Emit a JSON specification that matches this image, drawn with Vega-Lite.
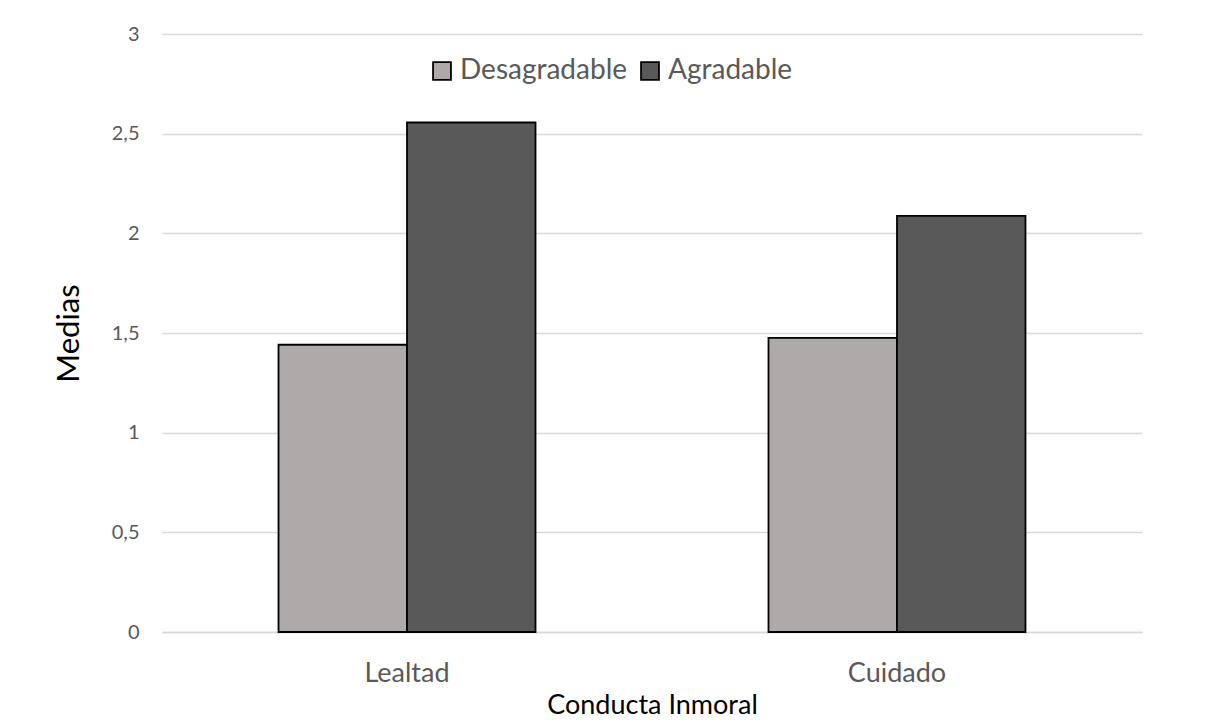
{
  "$schema": "https://vega.github.io/schema/vega-lite/v6.json",
  "autosize": "none",
  "width": 980,
  "height": 598,
  "padding": {"left": 162, "top": 34, "right": 63, "bottom": 88},
  "background": "white",
  "config": {
    "view": {"stroke": null},
    "font": "Lato"
  },
  "data": {
    "values": [
      {"conducta": "Lealtad", "grupo": "Desagradable", "media": 1.441},
      {"conducta": "Lealtad", "grupo": "Agradable", "media": 2.556},
      {"conducta": "Cuidado", "grupo": "Desagradable", "media": 1.476},
      {"conducta": "Cuidado", "grupo": "Agradable", "media": 2.088}
    ]
  },
  "mark": {"type": "bar", "stroke": "black", "strokeWidth": 1.8},
  "encoding": {
    "x": {
      "field": "conducta",
      "type": "nominal",
      "sort": ["Lealtad", "Cuidado"],
      "scale": {"paddingInner": 0.4755, "paddingOuter": 0.2378},
      "axis": {
        "title": "Conducta Inmoral",
        "titleFontSize": 27,
        "titleFontWeight": "normal",
        "titleColor": "black",
        "titlePadding": 6,
        "labelAngle": 0,
        "labelFontSize": 27,
        "labelColor": "#595959",
        "labelPadding": 28,
        "ticks": false,
        "domain": true,
        "domainColor": "#d9d9d9",
        "domainWidth": 1.5
      }
    },
    "xOffset": {"field": "grupo", "type": "nominal", "sort": ["Desagradable", "Agradable"], "scale": {"paddingInner": 0, "paddingOuter": 0}},
    "y": {
      "field": "media",
      "type": "quantitative",
      "scale": {"domain": [0, 3], "nice": false},
      "axis": {
        "title": "Medias",
        "titleFontSize": 31,
        "titleFontWeight": "normal",
        "titleColor": "black",
        "titlePadding": 26,
        "values": [0, 0.5, 1, 1.5, 2, 2.5, 3],
        "labelExpr": "replace(format(datum.value, '~g'), '.', ',')",
        "labelFontSize": 20,
        "labelColor": "#595959",
        "labelPadding": 23,
        "ticks": false,
        "domain": false,
        "grid": true,
        "gridColor": "#d9d9d9",
        "gridWidth": 1.5
      }
    },
    "color": {
      "field": "grupo",
      "type": "nominal",
      "sort": ["Desagradable", "Agradable"],
      "scale": {"domain": ["Desagradable", "Agradable"], "range": ["#aeaaaa", "#595959"]},
      "legend": {
        "title": null,
        "orient": "none",
        "direction": "horizontal",
        "legendX": 266,
        "legendY": 23,
        "symbolType": "square",
        "symbolSize": 320,
        "symbolStrokeColor": "black",
        "symbolStrokeWidth": 1.8,
        "labelFontSize": 28,
        "labelLimit": 400,
        "labelColor": "#595959",
        "columnPadding": 8,
        "labelOffset": 4
      }
    }
  }
}
